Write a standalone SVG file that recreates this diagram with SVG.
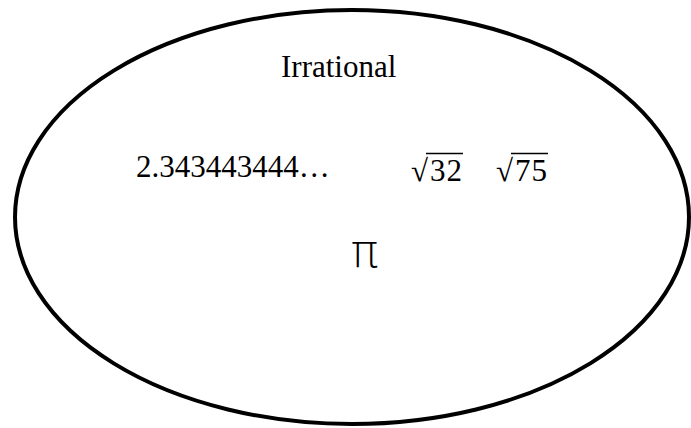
<svg xmlns="http://www.w3.org/2000/svg" width="691" height="428" viewBox="0 0 691 428">
<style>
.t{font-family:"Liberation Serif","Times New Roman",serif;font-size:31px;fill:#000}
.ov{stroke:#000;stroke-width:1.3}
.pi{font-family:"DejaVu Sans","Noto Sans",sans-serif;font-size:46px;font-weight:200;fill:#000}
</style>
<rect width="691" height="428" fill="#fff"/>
<g id="set">
<ellipse cx="352" cy="217" rx="337" ry="207" fill="none" stroke="#000" stroke-width="4"/>
<text class="t" x="281" y="77">Irrational</text>
</g>
<g id="n1"><text class="t" x="136" y="177">2.343443444…</text></g>
<g id="n2"><text class="t" y="181"><tspan x="411">√</tspan><tspan x="430" letter-spacing="1">32</tspan></text><line class="ov" x1="426" y1="153.5" x2="463" y2="153.5"/></g>
<g id="n3"><text class="t" y="181"><tspan x="496">√</tspan><tspan x="515" letter-spacing="1">75</tspan></text><line class="ov" x1="511" y1="153.5" x2="548" y2="153.5"/></g>
<g id="n4"><text class="pi" x="364.5" y="267" text-anchor="middle">π</text></g>
</svg>
